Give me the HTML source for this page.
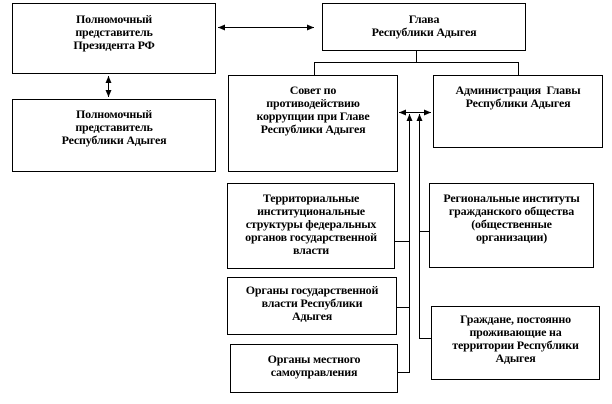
<!DOCTYPE html>
<html><head><meta charset="utf-8"><style>
html,body{margin:0;padding:0;background:#fff;}
body{width:612px;height:404px;position:relative;overflow:hidden;font-family:"Liberation Serif","DejaVu Serif",serif;}
.b{position:absolute;border:1px solid #000;box-sizing:border-box;font-weight:bold;font-size:12px;line-height:13px;text-align:center;letter-spacing:-0.2px;white-space:nowrap;}
svg{position:absolute;left:0;top:0;}
</style></head><body>
<svg width="612" height="404" viewBox="0 0 612 404">
<defs>
<marker id="a" markerWidth="8" markerHeight="8" refX="7" refY="4" orient="auto" markerUnits="userSpaceOnUse"><path d="M0,1 L7,4 L0,7 Z" fill="#000"/></marker>
</defs>
<g stroke="#000" stroke-width="1" fill="none">
<line x1="224" y1="27.5" x2="314" y2="27.5" marker-end="url(#a)"/>
<line x1="314" y1="27.5" x2="218" y2="27.5" marker-end="url(#a)"/>
<line x1="108.5" y1="85" x2="108.5" y2="97" marker-end="url(#a)"/>
<line x1="108.5" y1="88" x2="108.5" y2="76" marker-end="url(#a)"/>
<line x1="416.5" y1="51" x2="416.5" y2="62.5"/>
<line x1="314.5" y1="62.5" x2="518.5" y2="62.5"/>
<line x1="314.5" y1="62" x2="314.5" y2="75"/>
<line x1="518.5" y1="62" x2="518.5" y2="75"/>
<line x1="415" y1="112.5" x2="399" y2="112.5" marker-end="url(#a)"/>
<line x1="415" y1="112.5" x2="431" y2="112.5" marker-end="url(#a)"/>
<line x1="409.5" y1="372" x2="409.5" y2="114" marker-end="url(#a)"/>
<line x1="419.5" y1="338" x2="419.5" y2="114" marker-end="url(#a)"/>
<line x1="394" y1="241.5" x2="409" y2="241.5"/>
<line x1="397" y1="307.5" x2="409" y2="307.5"/>
<line x1="397" y1="372.5" x2="410" y2="372.5"/>
<line x1="419" y1="231.5" x2="429" y2="231.5"/>
<line x1="419" y1="338.5" x2="431" y2="338.5"/>
</g>
</svg>
<div class="b" style="left:12px;top:3px;width:204px;height:71px;padding-top:9px;">Полномочный<br>представитель<br>Президента РФ</div>
<div class="b" style="left:322px;top:3px;width:204px;height:48px;padding-top:9px;">Глава<br>Республики Адыгея</div>
<div class="b" style="left:12px;top:99px;width:204px;height:73px;padding-top:8px;">Полномочный<br>представитель<br>Республики Адыгея</div>
<div class="b" style="left:228px;top:75px;width:170px;height:97px;padding-top:8px;">Совет по<br>противодействию<br>коррупции при Главе<br>Республики Адыгея</div>
<div class="b" style="left:433px;top:75px;width:170px;height:73px;padding-top:8px;">Администрация&nbsp; Главы<br>Республики Адыгея</div>
<div class="b" style="left:227px;top:183px;width:168px;height:86px;padding-top:8px;">Территориальные<br>институциональные<br>структуры федеральных<br>органов государственной<br>власти</div>
<div class="b" style="left:429px;top:183px;width:165px;height:85px;padding-top:8px;">Региональные институты<br>гражданского общества<br>(общественные<br>организации)</div>
<div class="b" style="left:227px;top:277px;width:170px;height:58px;padding-top:6px;">Органы государственной<br>власти Республики<br>Адыгея</div>
<div class="b" style="left:431px;top:306px;width:169px;height:74px;padding-top:6px;">Граждане, постоянно<br>проживающие на<br>территории Республики<br>Адыгея</div>
<div class="b" style="left:230px;top:344px;width:168px;height:49px;padding-top:8px;">Органы местного<br>самоуправления</div>
</body></html>
